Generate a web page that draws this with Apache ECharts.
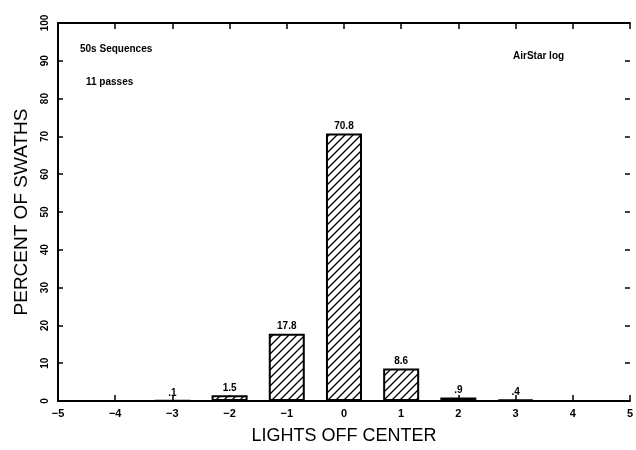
<!DOCTYPE html>
<html>
<head>
<meta charset="utf-8">
<script src="https://cdn.jsdelivr.net/npm/echarts@6/dist/echarts.min.js"></script>
<style>
  html, body { margin: 0; padding: 0; background: #fff; }
  #main { width: 636px; height: 450px; }
</style>
</head>
<body>
<div id="main"></div>
<script>
  // lights off center -> percent of swaths
  var offsets = [-3, -2, -1, 0, 1, 2, 3];
  var percents = [0.1, 1.5, 17.8, 70.8, 8.6, 0.9, 0.4];
  var xTicks = [-5, -4, -3, -2, -1, 0, 1, 2, 3, 4, 5];
  var yTicks = [0, 10, 20, 30, 40, 50, 60, 70, 80, 90, 100];

  // hatch pattern "/"
  function makeHatch() {
    var c = document.createElement('canvas');
    c.width = 8; c.height = 8;
    var g = c.getContext('2d');
    g.fillStyle = '#fff';
    g.fillRect(0, 0, 8, 8);
    g.strokeStyle = '#000';
    g.lineWidth = 1.3;
    g.beginPath();
    g.moveTo(-1, 9); g.lineTo(9, -1);
    g.moveTo(-5, 5); g.lineTo(5, -5);
    g.moveTo(3, 13); g.lineTo(13, 3);
    g.stroke();
    return c;
  }

  var barData = offsets.map(function (x, i) { return [x, percents[i]]; });

  var font = 'Liberation Sans, Arial, sans-serif';
  var axisLine = { show: true, onZero: false, lineStyle: { color: '#000', width: 2 } };
  var chart = echarts.init(document.getElementById('main'));
  var option = {
    animation: false,
    backgroundColor: '#fff',
    grid: { left: 58, right: 3, top: 23, bottom: 47 },
    xAxis: [{
      type: 'value',
      min: xTicks[0], max: xTicks[xTicks.length - 1], interval: 1,
      name: 'LIGHTS OFF CENTER',
      nameLocation: 'middle',
      nameGap: 26,
      nameTextStyle: { fontFamily: font, fontSize: 18, color: '#000' },
      axisLine: axisLine,
      axisTick: { inside: true, length: 6, lineStyle: { color: '#000', width: 1.5 } },
      axisLabel: { fontFamily: font, fontSize: 11, fontWeight: 'bold', color: '#000', margin: 7,
        formatter: function (v) { return v < 0 ? '\u2212' + Math.abs(v) : String(v); } },
      splitLine: { show: false }
    }, {
      type: 'value', position: 'top',
      min: xTicks[0], max: xTicks[xTicks.length - 1], interval: 1,
      axisLine: axisLine,
      axisTick: { inside: true, length: 6, lineStyle: { color: '#000', width: 1.5 } },
      axisLabel: { show: false },
      splitLine: { show: false }
    }],
    yAxis: [{
      type: 'value',
      min: yTicks[0], max: yTicks[yTicks.length - 1], interval: 10,
      name: 'PERCENT OF SWATHS',
      nameLocation: 'middle',
      nameRotate: 90,
      nameGap: 27,
      nameTextStyle: { fontFamily: font, fontSize: 19, color: '#000' },
      axisLine: axisLine,
      axisTick: { show: true, inside: true, length: 5, lineStyle: { color: '#000', width: 1.5 } },
      axisLabel: { fontFamily: font, fontSize: 10, fontWeight: 'bold', color: '#000', rotate: 90, margin: 8 },
      splitLine: { show: false }
    }, {
      type: 'value', position: 'right',
      min: yTicks[0], max: yTicks[yTicks.length - 1], interval: 10,
      axisLine: { show: false, onZero: false },
      axisTick: { show: true, inside: true, length: 5, lineStyle: { color: '#000', width: 1.5 } },
      axisLabel: { show: false },
      splitLine: { show: false }
    }],
    graphic: [
      { type: 'text', left: 80, top: 44, style: { text: '50s Sequences', font: 'bold 10px ' + font, fill: '#000' } },
      { type: 'text', left: 86, top: 77, style: { text: '11 passes', font: 'bold 10px ' + font, fill: '#000' } },
      { type: 'text', left: 513, top: 51, style: { text: 'AirStar log', font: 'bold 10px ' + font, fill: '#000' } }
    ],
    series: [{
      type: 'bar',
      xAxisIndex: 0,
      yAxisIndex: 0,
      data: barData,
      barWidth: 36,
      itemStyle: {
        color: { image: makeHatch(), repeat: 'repeat' },
        borderColor: '#000',
        borderWidth: 2
      },
      label: {
        show: true,
        position: 'top',
        distance: 2,
        fontFamily: font,
        fontSize: 10,
        fontWeight: 'bold',
        color: '#000',
        formatter: function (p) { return String(p.value[1]).replace(/^0\./, '.'); }
      }
    }]
  };
  chart.setOption(option);
</script>
</body>
</html>
